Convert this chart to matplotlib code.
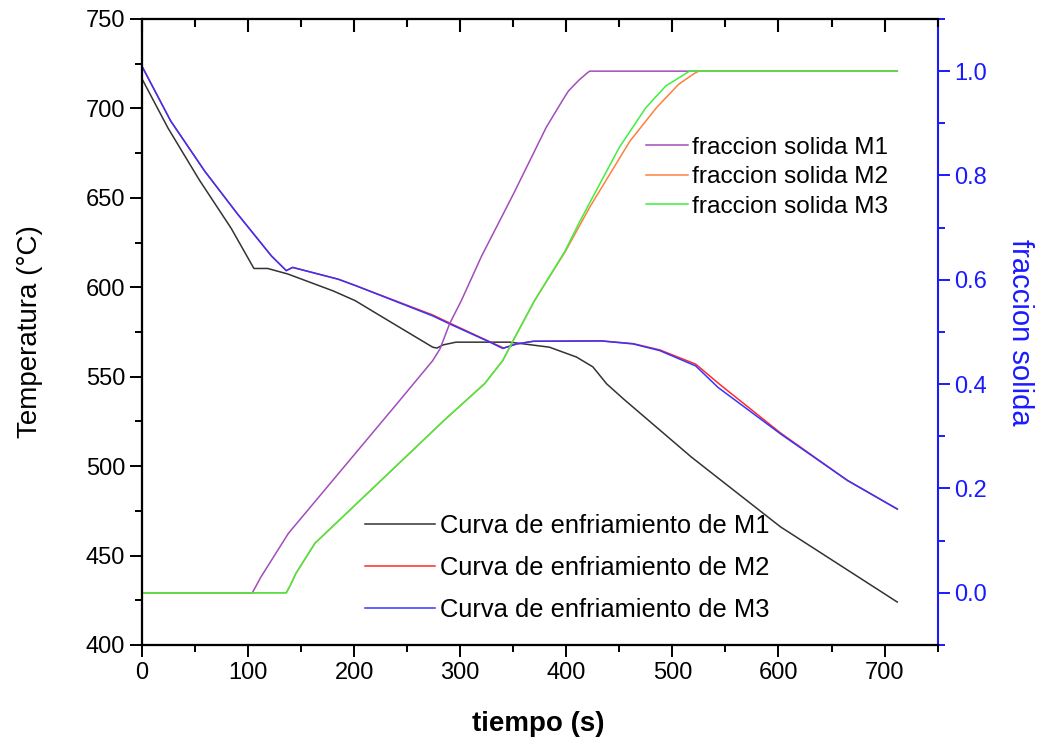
import matplotlib
matplotlib.use("Agg")
import matplotlib.pyplot as plt
from matplotlib.ticker import MultipleLocator, FormatStrFormatter

plt.rcParams['font.family'] = ['Liberation Sans', 'DejaVu Sans']

# cooling curves (tiempo s, temperatura C)
t_m1 = [0, 24.5, 54, 84, 105.5, 118.5, 137.5, 180, 201, 227, 274, 278, 284, 296, 347,
        384, 409.5, 425, 438, 454, 518, 602, 712]
T_m1 = [716.5, 689, 660, 633, 610.5, 610.5, 607.4, 598, 592.5, 583.2, 566.5, 566,
        567.8, 569.3, 569.3, 566.5, 561, 555.5, 546, 537.5, 505, 466, 424]

t_m2 = [0, 27, 59, 90, 122, 136, 142, 185, 201, 274, 290, 328, 341, 353, 369,
        433, 463, 488, 522, 545, 602, 665, 712]
T_m2 = [723.5, 693, 665, 641, 617.5, 609.3, 611.1, 604.5, 601, 584.5, 580, 569.5,
        566, 568.3, 569.8, 570, 568.5, 565, 557, 545.5, 518.5, 492, 476]

t_m3 = [0, 27, 59, 90, 122, 136, 142, 185, 201, 274, 290, 328, 340, 353, 369,
        433, 463, 488, 522, 543, 602, 665, 712]
T_m3 = [723.5, 693, 665, 641, 617.5, 609.3, 611.1, 604.5, 601, 584, 579.5, 569.3,
        565.8, 568.3, 569.8, 570, 568.3, 564.6, 556, 544, 518, 492, 476]

# solid fraction curves
tf_m1 = [0, 104, 112, 138, 201, 243, 274, 281, 290, 301, 320, 350, 381, 397, 402,
         412, 420, 422, 712]
fs_m1 = [0, 0, 0.03, 0.114, 0.267, 0.369, 0.445, 0.468, 0.516, 0.56, 0.645, 0.764,
         0.892, 0.946, 0.962, 0.983, 0.997, 1.0, 1.0]

tf_m2 = [0, 136, 140, 145, 163, 222, 285, 323, 340, 350, 370, 399, 422, 460, 485,
         506, 521, 525, 712]
fs_m2 = [0, 0, 0.015, 0.037, 0.095, 0.209, 0.331, 0.401, 0.445, 0.484, 0.56, 0.654,
         0.739, 0.866, 0.93, 0.975, 0.996, 1.0, 1.0]

tf_m3 = [0, 136, 140, 145, 163, 222, 285, 323, 340, 350, 370, 399, 413, 450, 475,
         494, 510, 516, 712]
fs_m3 = [0, 0, 0.015, 0.037, 0.095, 0.209, 0.331, 0.401, 0.445, 0.484, 0.56, 0.656,
         0.713, 0.854, 0.93, 0.972, 0.992, 1.0, 1.0]

blue = '#1a1aff'

fig = plt.figure(figsize=(10.42, 7.44), dpi=100)
fig.subplots_adjust(left=0.1363, right=0.8998, bottom=0.1331, top=0.9745)
ax = fig.add_subplot(111)
ax2 = ax.twinx()

ax.plot(t_m1, T_m1, color='#333333', lw=1.1, label='Curva de enfriamiento de M1')
ax.plot(t_m2, T_m2, color='#ff2a2a', lw=1.1, label='Curva de enfriamiento de M2')
ax.plot(t_m3, T_m3, color='#3535ff', lw=1.1, label='Curva de enfriamiento de M3')

ax2.plot(tf_m1, fs_m1, color='#a24dba', lw=1.1, label='fraccion solida M1')
ax2.plot(tf_m2, fs_m2, color='#ff7f3f', lw=1.1, label='fraccion solida M2')
ax2.plot(tf_m3, fs_m3, color='#3fef3f', lw=1.1, label='fraccion solida M3')

ax.set_xlim(0, 750)
ax.set_ylim(400, 750)
ax2.set_ylim(-0.1, 1.1)

ax.xaxis.set_major_locator(MultipleLocator(100))
ax.xaxis.set_minor_locator(MultipleLocator(50))
ax.yaxis.set_major_locator(MultipleLocator(50))
ax.yaxis.set_minor_locator(MultipleLocator(25))
ax2.yaxis.set_major_locator(MultipleLocator(0.2))
ax2.yaxis.set_minor_locator(MultipleLocator(0.1))
ax2.yaxis.set_major_formatter(FormatStrFormatter('%.1f'))
ax2.set_yticks([0, 0.2, 0.4, 0.6, 0.8, 1.0])

ax.tick_params(which='major', direction='out', length=8.5, width=1.4, labelsize=17)
ax.tick_params(which='minor', direction='out', length=5, width=1.4)
ax2.tick_params(axis='y', which='major', direction='out', length=8.5, width=1.4,
                labelsize=17, colors=blue)
ax2.tick_params(axis='y', which='minor', direction='out', length=5, width=1.4, colors=blue)

# inward ticks along the top edge
ax3 = ax.twiny()
ax3.set_xlim(ax.get_xlim())
ax3.xaxis.set_major_locator(MultipleLocator(100))
ax3.xaxis.set_minor_locator(MultipleLocator(50))
ax3.tick_params(axis='x', which='both', top=True, bottom=False, labeltop=False,
                labelbottom=False, direction='in', width=1.5, color='black')
ax3.tick_params(axis='x', which='major', length=9)
ax3.tick_params(axis='x', which='minor', length=5.5)

for a in (ax, ax2, ax3):
    for s in a.spines.values():
        s.set_linewidth(1.5)
ax.spines['right'].set_visible(False)
ax3.spines['right'].set_visible(False)
ax2.spines['right'].set_color(blue)

ax.set_xlabel('tiempo (s)', fontsize=20, fontweight='bold')
ax.xaxis.set_label_coords(0.498, -0.105)
ax.set_ylabel('Temperatura (°C)', fontsize=20, va='center')
ax.yaxis.set_label_coords(-0.141, 0.5)
ax2.set_ylabel('fraccion solida', fontsize=21, color=blue, rotation=270, va='center')
ax2.yaxis.set_label_coords(1.1036, 0.5)

ax.legend(loc='upper left', bbox_to_anchor=(0.3503, 0.309), bbox_transform=fig.transFigure,
          frameon=False, fontsize=18.4, borderpad=0, borderaxespad=0,
          handlelength=2.75, handletextpad=0.2, labelspacing=0.7)
ax2.legend(loc='upper left', bbox_to_anchor=(0.620, 0.816), bbox_transform=fig.transFigure,
           frameon=False, fontsize=17.6, borderpad=0, borderaxespad=0,
           handlelength=1.7, handletextpad=0.2, labelspacing=0.3)

fig.savefig('out.png', dpi=100)
